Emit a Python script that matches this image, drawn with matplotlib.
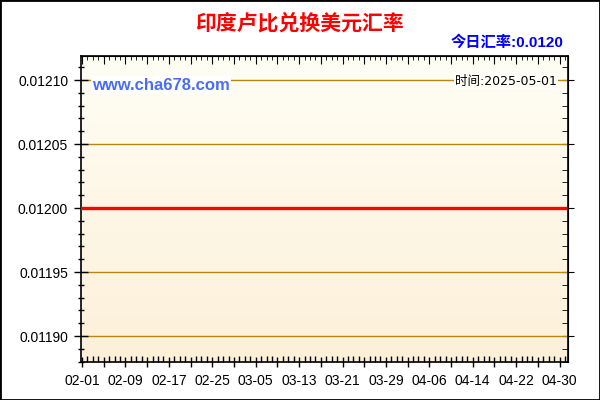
import matplotlib
matplotlib.use('Agg')
import matplotlib.pyplot as plt
import matplotlib.dates as mdates
from matplotlib.colors import LinearSegmentedColormap
from matplotlib.patches import Rectangle
from matplotlib.ticker import FixedLocator, MultipleLocator
import numpy as np
import pandas as pd

# chart data
title = '印度卢比兑换美元汇率'
today_text = '今日汇率:0.0120'
site_text = 'www.cha678.com'
time_text = '时间:2025-05-01'

start_date = '2025-02-01'
end_date = '2025-05-01'
rates = [
    0.0120, 0.0120, 0.0120, 0.0120, 0.0120, 0.0120, 0.0120, 0.0120, 0.0120, 0.0120,
    0.0120, 0.0120, 0.0120, 0.0120, 0.0120, 0.0120, 0.0120, 0.0120, 0.0120, 0.0120,
    0.0120, 0.0120, 0.0120, 0.0120, 0.0120, 0.0120, 0.0120, 0.0120, 0.0120, 0.0120,
    0.0120, 0.0120, 0.0120, 0.0120, 0.0120, 0.0120, 0.0120, 0.0120, 0.0120, 0.0120,
    0.0120, 0.0120, 0.0120, 0.0120, 0.0120, 0.0120, 0.0120, 0.0120, 0.0120, 0.0120,
    0.0120, 0.0120, 0.0120, 0.0120, 0.0120, 0.0120, 0.0120, 0.0120, 0.0120, 0.0120,
    0.0120, 0.0120, 0.0120, 0.0120, 0.0120, 0.0120, 0.0120, 0.0120, 0.0120, 0.0120,
    0.0120, 0.0120, 0.0120, 0.0120, 0.0120, 0.0120, 0.0120, 0.0120, 0.0120, 0.0120,
    0.0120, 0.0120, 0.0120, 0.0120, 0.0120, 0.0120, 0.0120, 0.0120, 0.0120, 0.0120,
]
x_labels = ['02-01', '02-09', '02-17', '02-25', '03-05', '03-13',
            '03-21', '03-29', '04-06', '04-14', '04-22', '04-30']
y_ticks = [0.01190, 0.01195, 0.01200, 0.01205, 0.01210]

dates = pd.date_range(start_date, end_date, freq='D')
x = mdates.date2num(dates)

fig = plt.figure(figsize=(6, 4), dpi=100)
fig.patch.set_facecolor('white')
ax = fig.add_axes([80.7 / 600, 1 - 361.7 / 400, 487 / 600, 306 / 400])

x0 = x[0] - 0.25
x1 = x[0] + 89.5
y0, y1 = 0.01188, 0.012119
ax.set_xlim(x0, x1)
ax.set_ylim(y0, y1)

# background gradient
cmap = LinearSegmentedColormap.from_list('bg', ['#FDF0D9', '#FFFEF5'])
grad = np.linspace(0, 1, 256).reshape(-1, 1)
ax.imshow(grad, extent=[x0, x1, y0, y1], origin='lower', aspect='auto',
          cmap=cmap, zorder=0)

ax.grid(axis='y', color='#B8860B', linewidth=1.0)
ax.set_axisbelow(True)

ax.plot(x, rates, color='#FF0000', linewidth=2.4, zorder=3)

# x ticks: long every 4 days, label every 8 days
label_pos = mdates.date2num(pd.to_datetime(['2025-' + s for s in x_labels]))
major_pos = x[0] + np.arange(0, 89, 4)
major_lab = []
for p in major_pos:
    if np.any(np.isclose(label_pos, p)):
        major_lab.append(x_labels[int(np.argmin(np.abs(label_pos - p)))])
    else:
        major_lab.append('')
ax.xaxis.set_major_locator(FixedLocator(major_pos))
ax.set_xticklabels(major_lab)
ax.xaxis.set_minor_locator(FixedLocator(x))

ax.set_yticks(y_ticks)
ax.set_yticklabels(['%.5f' % v for v in y_ticks])
ax.yaxis.set_minor_locator(MultipleLocator(0.00001))

for lab in ax.get_xticklabels() + ax.get_yticklabels():
    lab.set_family('Liberation Sans')
    lab.set_fontsize(10)
    lab.set_color('black')

ax.tick_params(axis='x', which='major', direction='inout', length=7, width=1, pad=5)
ax.tick_params(axis='x', which='minor', direction='in', length=4, width=1)
ax.tick_params(axis='y', which='major', direction='inout', length=10, width=1, pad=4)
ax.tick_params(axis='y', which='minor', direction='inout', length=5, width=1)

top = ax.secondary_xaxis('top')
top.xaxis.set_major_locator(FixedLocator(major_pos))
top.xaxis.set_minor_locator(FixedLocator(x))
top.tick_params(which='major', direction='in', length=6, labeltop=False)
top.tick_params(which='minor', direction='in', length=3)

right = ax.secondary_yaxis('right')
right.set_yticks(y_ticks)
right.yaxis.set_minor_locator(MultipleLocator(0.00001))
right.tick_params(which='major', direction='inout', length=8, labelright=False)
right.tick_params(which='minor', direction='in', length=4)

for sp in ax.spines.values():
    sp.set_color('black')
    sp.set_linewidth(1.2)

# texts
fig.text(0.5, 1 - 23 / 400, title, ha='center', va='center', fontsize=15,
         fontweight='bold', color='#FF0000', family='Noto Sans CJK SC')
fig.text(563 / 600, 1 - 42.5 / 400, today_text, ha='right', va='center',
         fontsize=11, fontweight='bold', color='#0000FF',
         family=['Liberation Sans', 'Noto Sans CJK SC'])
fig.text(92 / 600, 1 - 85 / 400, site_text, ha='left', va='center', fontsize=12,
         fontweight='bold', color='#4A6CF7', family='Liberation Sans',
         bbox=dict(facecolor='white', edgecolor='none', pad=1), zorder=5)
fig.text(557 / 600, 1 - 81 / 400, time_text, ha='right', va='center', fontsize=9,
         color='black', family=['DejaVu Sans', 'Noto Sans CJK SC'],
         bbox=dict(facecolor='#FFFEF8', edgecolor='none', pad=1), zorder=5)

fig.add_artist(Rectangle((0, 0), 1, 1, transform=fig.transFigure, fill=False,
                         edgecolor='black', linewidth=2))

fig.savefig('out.png', dpi=100)
